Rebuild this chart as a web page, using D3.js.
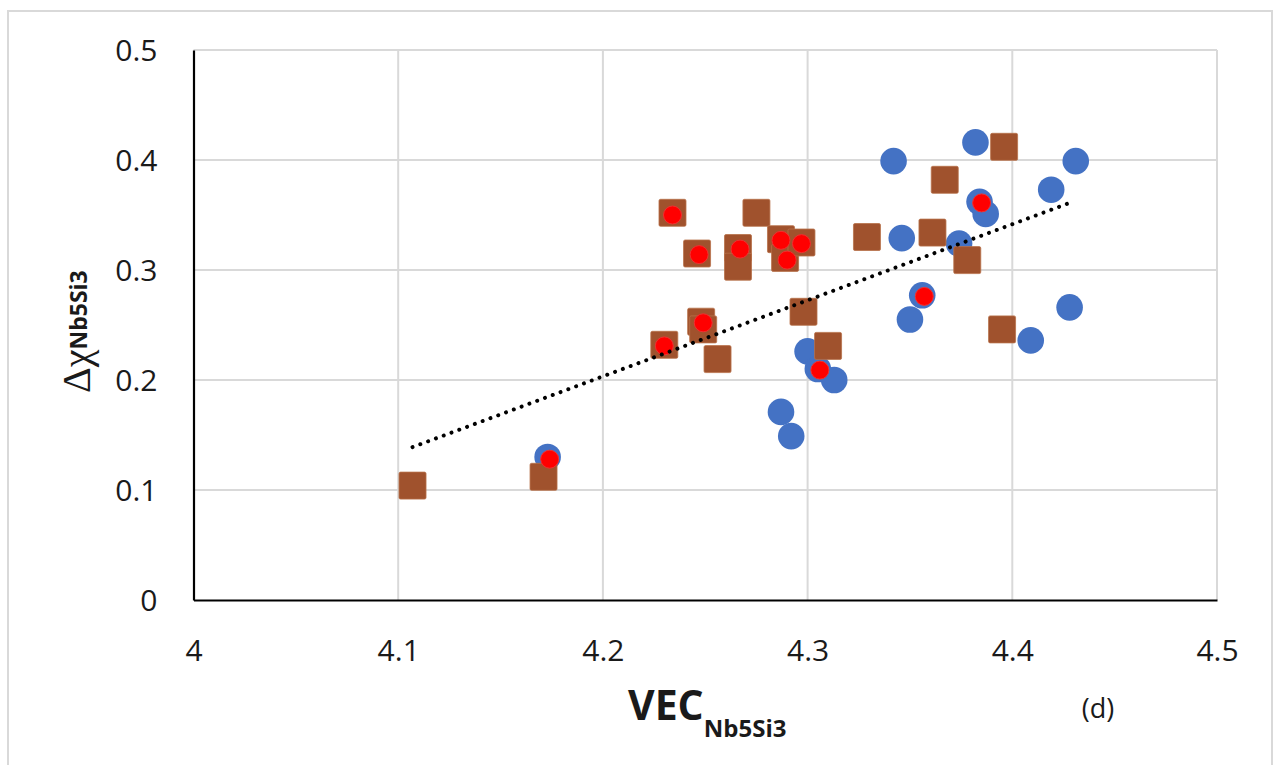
<!DOCTYPE html>
<html>
<head>
<meta charset="utf-8">
<script src="https://cdn.jsdelivr.net/npm/d3@7"></script>
<style>
  html, body { margin: 0; padding: 0; background: #fff; }
  svg { display: block; }
</style>
</head>
<body>
<svg id="chart" width="1274" height="765"></svg>
<script>
// Axis ticks
const xTicks = [4, 4.1, 4.2, 4.3, 4.4, 4.5];
const yTicks = [0, 0.1, 0.2, 0.3, 0.4, 0.5];

// Blue circle series: VEC (x) and Δχ (y)
const circleVec = [4.173, 4.287, 4.292, 4.300, 4.305, 4.313, 4.342, 4.346, 4.350, 4.356,
                   4.374, 4.382, 4.384, 4.387, 4.409, 4.419, 4.428, 4.431];
const circleChi = [0.130, 0.171, 0.149, 0.226, 0.210, 0.200, 0.399, 0.329, 0.255, 0.277,
                   0.324, 0.416, 0.362, 0.351, 0.236, 0.373, 0.266, 0.399];

// Brown square series
const squareVec = [4.107, 4.171, 4.230, 4.234, 4.246, 4.248, 4.249, 4.256, 4.266, 4.266, 4.275,
                   4.287, 4.289, 4.297, 4.298, 4.310, 4.329, 4.361, 4.367, 4.378, 4.395, 4.396];
const squareChi = [0.104, 0.112, 0.232, 0.352, 0.315, 0.253, 0.246, 0.219, 0.320, 0.303, 0.352,
                   0.328, 0.311, 0.325, 0.262, 0.231, 0.330, 0.334, 0.382, 0.309, 0.246, 0.412];

// Red dot series
const dotVec = [4.174, 4.230, 4.234, 4.247, 4.249, 4.267, 4.287, 4.290, 4.297, 4.306, 4.357, 4.385];
const dotChi = [0.128, 0.231, 0.350, 0.314, 0.252, 0.319, 0.327, 0.309, 0.324, 0.209, 0.276, 0.361];

// Linear trend line end points
const trendVec = [4.107, 4.428];
const trendChi = [0.139, 0.361];

const svg = d3.select("#chart");
const x = d3.scaleLinear().domain([4, 4.5]).range([193.5, 1217]);
const y = d3.scaleLinear().domain([0, 0.5]).range([600, 50]);

// outer frame
svg.append("rect").attr("x", 8).attr("y", 11).attr("width", 1264).attr("height", 800)
  .attr("fill", "none").attr("stroke", "#d9d9d9").attr("stroke-width", 2);

// gridlines
svg.append("g").selectAll("line").data(yTicks.filter(d => d > 0)).join("line")
  .attr("x1", x(4)).attr("x2", x(4.5)).attr("y1", d => y(d)).attr("y2", d => y(d))
  .attr("stroke", "#d9d9d9").attr("stroke-width", 2);
svg.append("g").selectAll("line").data(xTicks.filter(d => d > 4)).join("line")
  .attr("x1", d => x(d)).attr("x2", d => x(d)).attr("y1", y(0)).attr("y2", y(0.5))
  .attr("stroke", "#d9d9d9").attr("stroke-width", 2);

// axes
const fontTick = "'Open Sans', sans-serif";
const xAxis = d3.axisBottom(x).tickValues(xTicks).tickSize(0).tickPadding(0)
  .tickFormat(d3.format("~g"));
const gx = svg.append("g").attr("transform", `translate(0,${y(0)})`).call(xAxis);
gx.select(".domain").attr("stroke", "#000").attr("stroke-width", 2.2);
gx.selectAll("text").attr("font-family", fontTick).attr("font-size", 30)
  .attr("fill", "#1a1a1a").attr("dy", 0).attr("y", 61);

const yAxis = d3.axisLeft(y).tickValues(yTicks).tickSize(0).tickPadding(0)
  .tickFormat(d3.format("~g"));
const gy = svg.append("g").attr("transform", `translate(${x(4)},0)`).call(yAxis);
gy.select(".domain").attr("stroke", "#000").attr("stroke-width", 2.2);
gy.selectAll("text").attr("font-family", fontTick).attr("font-size", 30)
  .attr("fill", "#1a1a1a").attr("x", -36).attr("dy", "0.35em");

// blue circles
svg.append("g").selectAll("circle").data(d3.range(circleVec.length)).join("circle")
  .attr("cx", i => x(circleVec[i])).attr("cy", i => y(circleChi[i])).attr("r", 13.3)
  .attr("fill", "#4472C4");

// brown squares
const s = 27;
svg.append("g").selectAll("rect").data(d3.range(squareVec.length)).join("rect")
  .attr("x", i => x(squareVec[i]) - s / 2).attr("y", i => y(squareChi[i]) - s / 2)
  .attr("width", s).attr("height", s).attr("rx", 1.5)
  .attr("fill", "#A0522D").attr("stroke", "#b8714a").attr("stroke-width", 0.8);

// red dots
svg.append("g").selectAll("circle").data(d3.range(dotVec.length)).join("circle")
  .attr("cx", i => x(dotVec[i])).attr("cy", i => y(dotChi[i])).attr("r", 9)
  .attr("fill", "#FF0000").attr("stroke", "#f03030").attr("stroke-width", 1);

// trend line
svg.append("path")
  .attr("d", d3.line().x(i => x(trendVec[i])).y(i => y(trendChi[i]))(d3.range(trendVec.length)))
  .attr("fill", "none").attr("stroke", "#000").attr("stroke-width", 4)
  .attr("stroke-linecap", "round").attr("stroke-dasharray", "0.01 8.3");

// x axis title
const xt = svg.append("text").attr("x", 628).attr("y", 720)
  .attr("font-family", fontTick).attr("font-weight", "bold").attr("font-size", 41).attr("fill", "#1a1a1a");
xt.append("tspan").text("VEC");
xt.append("tspan").attr("font-size", 24).attr("dy", 17).text("Nb5Si3");

// panel tag
svg.append("text").attr("x", 1098).attr("y", 718).attr("text-anchor", "middle")
  .attr("font-family", fontTick).attr("font-size", 27).attr("fill", "#1a1a1a").text("(d)");

// y axis title
const yt = svg.append("text").attr("transform", "translate(90,393) rotate(-90)")
  .attr("fill", "#1a1a1a");
yt.append("tspan").attr("font-family", "'Liberation Serif', serif").attr("font-size", 40).text("Δχ");
yt.append("tspan").attr("font-family", fontTick).attr("font-weight", "bold")
  .attr("font-size", 23).attr("dy", -3).text("Nb5Si3");
</script>
</body>
</html>
